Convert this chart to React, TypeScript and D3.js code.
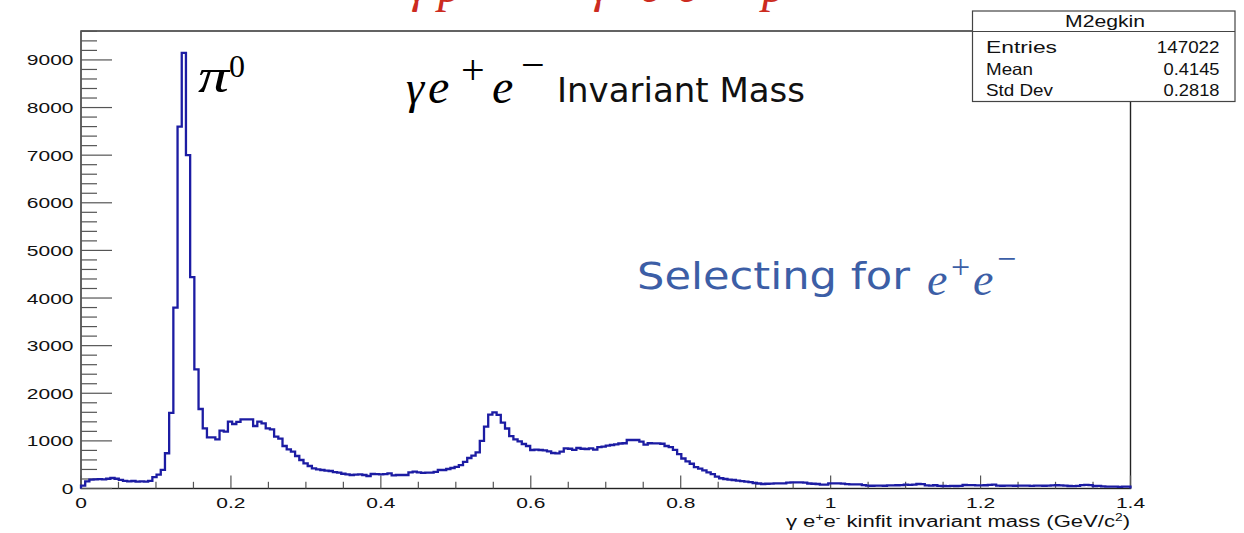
import React from 'react';
import * as d3 from 'd3';

// ---- data ----
const X_MIN = 0;
const X_MAX = 1.4;
const counts: number[] = [
  60, 150, 185, 190, 195, 190, 205, 220, 205, 180,
  160, 150, 158, 145, 150, 145, 160, 240, 290, 390,
  740, 1590, 3800, 7600, 9150, 7000, 4440, 2500, 1670, 1264,
  1074, 1074, 1032, 1214, 1193, 1403, 1354, 1400, 1452, 1452,
  1452, 1312, 1403, 1368, 1263, 1242, 1088, 1046, 892, 822,
  773, 683, 598, 528, 472, 423, 400, 388, 375, 367,
  345, 332, 310, 297, 283, 290, 297, 283, 262, 304,
  300, 297, 300, 318, 276, 283, 283, 283, 340, 353,
  340, 330, 335, 332, 350, 388, 388, 410, 430, 455,
  490, 560, 640, 690, 760, 1000, 1300, 1550, 1600, 1545,
  1382, 1260, 1100, 1032, 990, 934, 892, 808, 815, 808,
  800, 780, 745, 738, 773, 843, 835, 810, 850, 835,
  829, 843, 815, 870, 880, 899, 913, 927, 945, 950,
  1018, 1018, 1018, 983, 920, 950, 948, 948, 940, 892,
  870, 810, 720, 630, 570, 520, 450, 416, 380, 340,
  300, 250, 215, 200, 185, 178, 165, 155, 143, 132,
  115, 105, 95, 100, 104, 108, 108, 108, 122, 128,
  130, 130, 125, 105, 100, 95, 80, 82, 108, 108,
  106, 104, 90, 87, 85, 87, 70, 60, 58, 62,
  60, 58, 64, 66, 68, 72, 80, 78, 82, 94,
  90, 66, 62, 68, 55, 52, 50, 54, 52, 55,
  73, 72, 70, 66, 64, 68, 78, 80, 60, 58,
  62, 60, 58, 60, 62, 60, 56, 62, 60, 58,
  62, 64, 68, 64, 60, 52, 50, 54, 70, 75,
  70, 52, 55, 45, 40, 38, 40, 36, 38, 40,
];
const xTickValues = [0, 0.2, 0.4, 0.6, 0.8, 1.0, 1.2, 1.4];
const xTickLabels = ['0', '0.2', '0.4', '0.6', '0.8', '1', '1.2', '1.4'];
const yTickValues = [0, 1000, 2000, 3000, 4000, 5000, 6000, 7000, 8000, 9000];
const yTickLabels = ['0', '1000', '2000', '3000', '4000', '5000', '6000', '7000', '8000', '9000'];
const statsTitle = 'M2egkin';
const statsNames = ['Entries', 'Mean', 'Std Dev'];
const statsValues = ['147022', '0.4145', '0.2818'];

const SANS = "'Liberation Sans', Arial, Helvetica, sans-serif";
const SERIF = "'Liberation Serif', 'Times New Roman', serif";
const DJ = "'DejaVu Sans', sans-serif";

export default function App() {
  const W = 1244;
  const H = 533;
  const left = 81;
  const right = 1130.5;
  const top = 31;
  const bottom = 488.5;

  const nBins = counts.length;
  const bw = (X_MAX - X_MIN) / nBins;
  const x = d3.scaleLinear().domain([X_MIN, X_MAX]).range([left, right]);
  const yMax = (d3.max(counts) as number) * 1.05;
  const y = d3.scaleLinear().domain([0, yMax]).range([bottom, top]);

  const pts: [number, number][] = [[X_MIN, 0]];
  counts.forEach((v, i) => pts.push([X_MIN + i * bw, v]));
  pts.push([X_MAX, counts[nBins - 1]]);
  pts.push([X_MAX, 0]);
  const line = d3
    .line<[number, number]>()
    .x((d) => x(d[0]))
    .y((d) => y(d[1]))
    .curve(d3.curveStepAfter);
  const path = line(pts) || '';

  const yMinor = d3.range(0, yMax, 200).filter((v) => v % 1000 !== 0);
  const xMinor = d3.range(0, 28).map((i) => i * 0.05).filter((v, i) => i % 4 !== 0);

  const tickColor = '#555';
  const boxL = 972.5;
  const boxT = 11;
  const boxW = 262.5;
  const boxH = 90.5;
  const rowBase = [53.3, 74.5, 96.3];
  const nameLen = [71, 47, 67];
  const valLen = [62.7, 56, 56];

  return (
    <svg
      width={W}
      height={H}
      viewBox={`0 0 ${W} ${H}`}
      style={{ position: 'absolute', left: 0, top: 0, background: '#fff' }}
    >
      <rect x={0} y={0} width={W} height={H} fill="#fff" />

      {/* red slide title, mostly cropped above the picture */}
      <text y={1.5} fontFamily={SERIF} fontStyle="italic" fontSize={48} fill="#cc2b1f">
        <tspan x={409}>γ</tspan>
        <tspan x={438}>p</tspan>
        <tspan x={495}>→</tspan>
        <tspan x={591}>γ</tspan>
        <tspan x={640}>e⁺e⁻</tspan>
        <tspan x={762}>p</tspan>
      </text>

      {/* frame */}
      <rect x={left} y={top} width={right - left} height={bottom - top} fill="none" stroke="#222" strokeWidth={1.4} />

      {/* y ticks */}
      {yTickValues.map((v) => (
        <line key={'ym' + v} x1={left} x2={left + 31} y1={y(v)} y2={y(v)} stroke={tickColor} strokeWidth={1.2} />
      ))}
      {yMinor.map((v) => (
        <line key={'yn' + v} x1={left} x2={left + 16} y1={y(v)} y2={y(v)} stroke={tickColor} strokeWidth={1.2} />
      ))}
      {yTickValues.map((v, i) => (
        <text
          key={'yl' + v}
          transform={`translate(73.5,${y(v) + 5.5}) scale(1.4,1)`}
          textAnchor="end"
          fontFamily={SANS}
          fontSize={15}
          fill="#111"
        >
          {yTickLabels[i]}
        </text>
      ))}

      {/* x ticks */}
      {xTickValues.map((v) => (
        <line key={'xm' + v} x1={x(v)} x2={x(v)} y1={bottom} y2={bottom - 13} stroke={tickColor} strokeWidth={1.2} />
      ))}
      {xMinor.map((v) => (
        <line key={'xn' + v} x1={x(v)} x2={x(v)} y1={bottom} y2={bottom - 6.7} stroke={tickColor} strokeWidth={1.2} />
      ))}
      {xTickValues.map((v, i) => (
        <text
          key={'xl' + v}
          transform={`translate(${x(v)},507.5) scale(1.4,1)`}
          textAnchor="middle"
          fontFamily={SANS}
          fontSize={15}
          fill="#111"
        >
          {xTickLabels[i]}
        </text>
      ))}

      {/* x title */}
      <text transform="translate(1130,526.5) scale(1.38,1)" textAnchor="end" fontFamily={SANS} fontSize={16} fill="#111">
        γ e<tspan dy={-6} fontSize={10}>+</tspan>
        <tspan dy={6}>e</tspan>
        <tspan dy={-6} fontSize={10}>-</tspan>
        <tspan dy={6}> kinfit invariant mass (GeV/c</tspan>
        <tspan dy={-6} fontSize={10}>2</tspan>
        <tspan dy={6}>)</tspan>
      </text>

      {/* histogram */}
      <path d={path} fill="none" stroke="#1c1ca3" strokeWidth={2.3} strokeLinejoin="miter" />

      {/* stats box */}
      <rect x={boxL} y={boxT} width={boxW} height={boxH} fill="#fff" stroke="#444" strokeWidth={1.2} />
      <line x1={boxL} x2={boxL + boxW} y1={31.5} y2={31.5} stroke="#444" strokeWidth={1.2} />
      <text x={1105} y={26.7} textAnchor="middle" fontFamily={SANS} fontSize={16} textLength={80} lengthAdjust="spacingAndGlyphs" fill="#111">
        {statsTitle}
      </text>
      {statsNames.map((n, i) => (
        <text key={n} x={986} y={rowBase[i]} fontFamily={SANS} fontSize={16.5} textLength={nameLen[i]} lengthAdjust="spacingAndGlyphs" fill="#111">
          {n}
        </text>
      ))}
      {statsValues.map((v, i) => (
        <text
          key={'v' + i}
          x={1219.5 - valLen[i]}
          y={rowBase[i]}
          fontFamily={SANS}
          fontSize={16.5}
          textLength={valLen[i]}
          lengthAdjust="spacingAndGlyphs"
          fill="#111"
        >
          {v}
        </text>
      ))}

      {/* pi0 annotation */}
      <text x={198} y={92} fontFamily={SERIF} fontStyle="italic" fontSize={48} textLength={31} lengthAdjust="spacingAndGlyphs" fill="#000">π</text>
      <text x={229} y={77} fontFamily={SERIF} fontSize={32} fill="#000">0</text>

      {/* gamma e+ e- Invariant Mass */}
      <text x={406} y={103} fontFamily={SERIF} fontStyle="italic" fontSize={46} fill="#000">γ</text>
      <text x={428} y={103} fontFamily={SERIF} fontStyle="italic" fontSize={48} fill="#000">e</text>
      <text x={461} y={83.5} fontFamily={SERIF} fontSize={42} fill="#000">+</text>
      <text x={492} y={103} fontFamily={SERIF} fontStyle="italic" fontSize={48} fill="#000">e</text>
      <text x={521} y={78.5} fontFamily={SERIF} fontSize={42} fill="#000">−</text>
      <text x={557} y={102} fontFamily={DJ} fontSize={33} textLength={248} lengthAdjust="spacingAndGlyphs" fill="#111">
        Invariant Mass
      </text>

      {/* Selecting for e+e- */}
      <text x={637} y={289.3} fontFamily={DJ} fontSize={38} textLength={273} lengthAdjust="spacingAndGlyphs" fill="#3c5ea6">
        Selecting for
      </text>
      <text x={927} y={295} fontFamily={SERIF} fontStyle="italic" fontSize={46} fill="#3c5ea6">e</text>
      <text x={951} y={277.5} fontFamily={SERIF} fontSize={34} fill="#3c5ea6">+</text>
      <text x={973} y={295} fontFamily={SERIF} fontStyle="italic" fontSize={46} fill="#3c5ea6">e</text>
      <text x={997} y={270} fontFamily={SERIF} fontSize={34} fill="#3c5ea6">−</text>
    </svg>
  );
}
